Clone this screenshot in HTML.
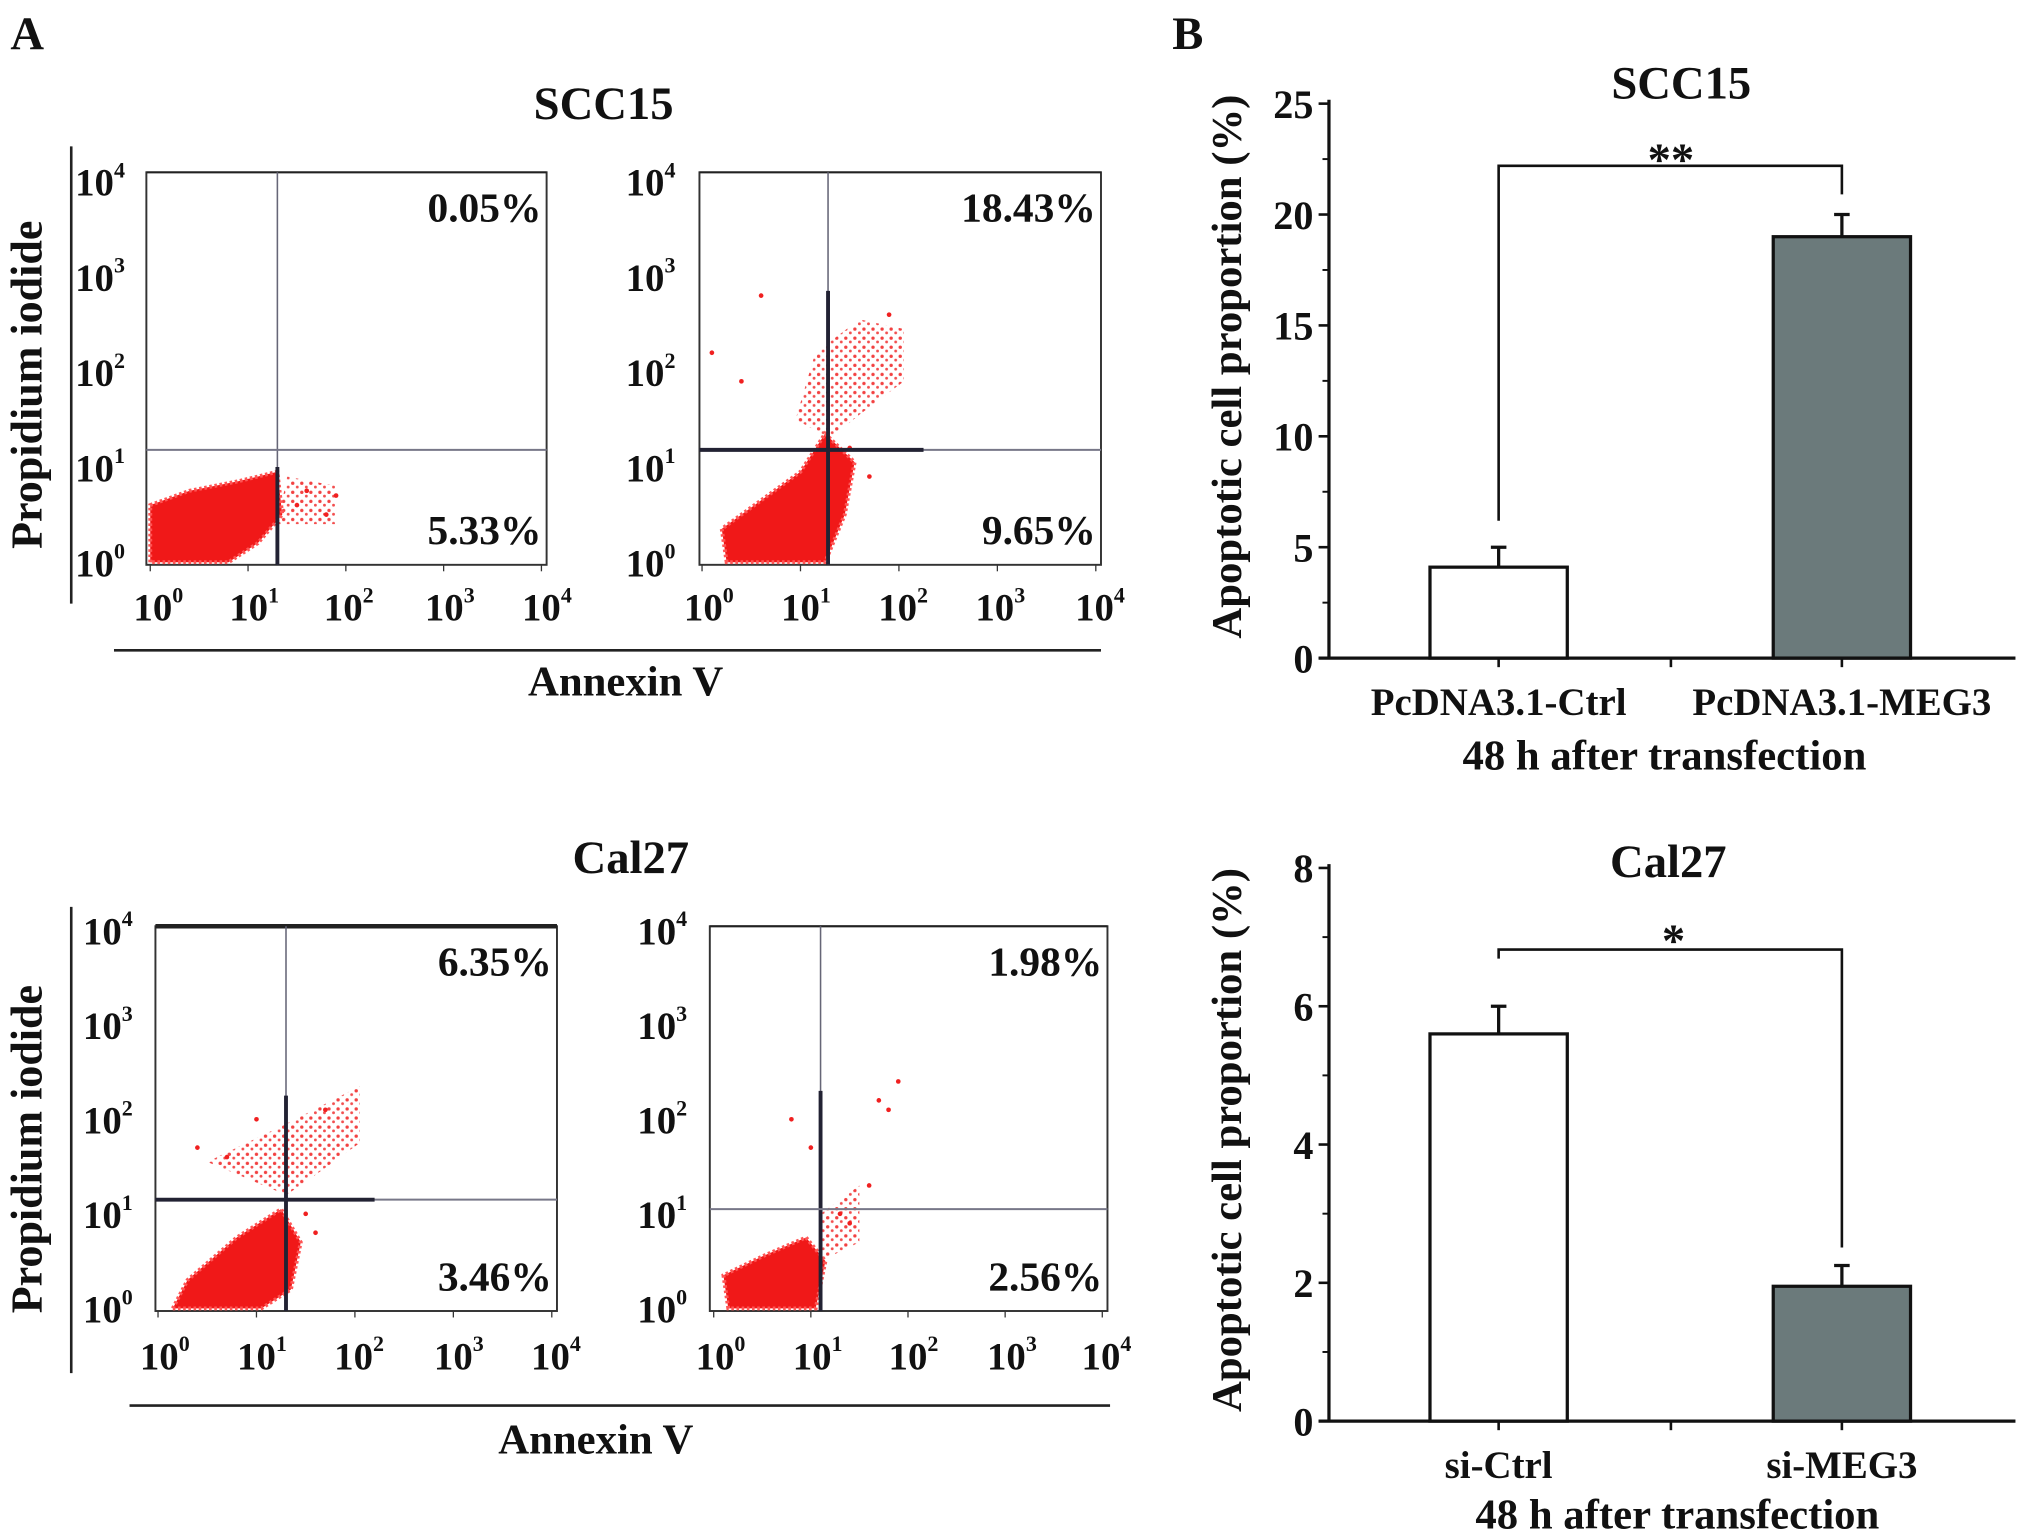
<!DOCTYPE html>
<html><head><meta charset="utf-8">
<style>
html,body{margin:0;padding:0;background:#fff;}
svg{display:block;}
text{font-family:"Liberation Serif",serif;font-weight:bold;fill:#111;}
</style></head>
<body>
<svg id="fig" width="2031" height="1539" viewBox="0 0 1568 1188" preserveAspectRatio="none" xmlns="http://www.w3.org/2000/svg">
<defs>
<pattern id="dots" width="7" height="7" patternUnits="userSpaceOnUse">
<circle cx="2" cy="2" r="1.3" fill="#f02020"/><circle cx="5.5" cy="5" r="1.1" fill="#f03030"/>
</pattern>
</defs>
<text x="8" y="38" font-size="36">A</text>
<text x="905" y="38" font-size="36">B</text>
<text x="466" y="92" font-size="36" text-anchor="middle">SCC15</text>
<text x="487" y="674" font-size="36" text-anchor="middle">Cal27</text>
<line x1="55" y1="113" x2="55" y2="466" stroke="#222" stroke-width="2"/>
<line x1="55" y1="700" x2="55" y2="1060" stroke="#222" stroke-width="2"/>
<text transform="translate(32,297) rotate(-90)" font-size="34" text-anchor="middle">Propidium iodide</text>
<text transform="translate(32,887) rotate(-90)" font-size="34" text-anchor="middle">Propidium iodide</text>
<line x1="88" y1="502" x2="850" y2="502" stroke="#222" stroke-width="2"/>
<line x1="100" y1="1085" x2="857" y2="1085" stroke="#222" stroke-width="2"/>
<text x="483" y="537" font-size="33" text-anchor="middle">Annexin V</text>
<text x="460" y="1122" font-size="33" text-anchor="middle">Annexin V</text>

<text x="1298" y="76" font-size="36" text-anchor="middle">SCC15</text>
<text x="1288" y="677" font-size="36" text-anchor="middle">Cal27</text>
<text transform="translate(958,283) rotate(-90)" font-size="33" text-anchor="middle">Apoptotic cell proportion (%)</text>
<text transform="translate(958,880) rotate(-90)" font-size="33" text-anchor="middle">Apoptotic cell proportion (%)</text>
<text x="1285" y="594" font-size="33" text-anchor="middle">48 h after transfection</text>
<text x="1295" y="1180" font-size="33" text-anchor="middle">48 h after transfection</text>
</svg>
<script>
// ---- flow cytometry data (log10 units) ----
const flowNames = ['scc15-ctrl','scc15-meg3','cal27-ctrl','cal27-simeg3'];
const quadUpper = ['0.05%','18.43%','6.35%','1.98%'];
const quadLower = ['5.33%','9.65%','3.46%','2.56%'];
const gateX = [1.3, 1.28, 1.3, 1.1];
const gateY = [1.18, 1.18, 1.15, 1.05];
const denseClouds = [
 [[0,0],[0,0.6],[0.4,0.75],[0.9,0.85],[1.3,0.95],[1.35,0.5],[1.1,0.2],[0.8,0]],
 [[0.25,0],[0.2,0.35],[0.6,0.65],[1.0,0.95],[1.25,1.35],[1.55,1.05],[1.45,0.5],[1.25,0]],
 [[0.15,0],[0.3,0.3],[0.8,0.75],[1.25,1.05],[1.45,0.7],[1.35,0.2],[1.05,0]],
 [[0.15,0],[0.1,0.35],[0.5,0.55],[0.95,0.75],[1.15,0.5],[1.05,0]]
];
const sparseClouds = [
 [[1.3,0.4],[1.4,0.9],[1.9,0.8],[1.9,0.4]],
 [[0.95,1.5],[1.15,2.2],[1.6,2.55],[2.05,2.45],[2.05,1.9],[1.6,1.55],[1.3,1.3]],
 [[0.5,1.55],[1.3,1.95],[2.05,2.35],[2.05,1.75],[1.45,1.3],[1.3,1.2]],
 [[1.1,0.5],[1.1,1.0],[1.5,1.3],[1.5,0.7]]
];
const strayPoints = [
 [[1.5,0.6],[1.8,0.5],[1.9,0.7],[1.6,0.75]],
 [[0.1,2.2],[0.6,2.8],[1.9,2.6],[0.4,1.9],[1.5,1.2],[1.7,0.9]],
 [[0.7,1.6],[1.0,2.0],[1.7,2.1],[1.5,1.0],[1.6,0.8],[0.4,1.7]],
 [[1.7,2.2],[1.8,2.1],[0.8,2.0],[1.0,1.7],[1.6,1.3],[1.3,1.0],[1.4,0.9],[1.9,2.4]]
];
const decadeLabels = ['0','1','2','3','4'];
// ---- bar chart data ----
const barCats1 = ['PcDNA3.1-Ctrl','PcDNA3.1-MEG3'];
const barVals1 = [4.1, 19.0];
const barErr1 = [0.9, 1.0];
const barTicks1 = [0,5,10,15,20,25];
const barCats2 = ['si-Ctrl','si-MEG3'];
const barVals2 = [5.6, 1.95];
const barErr2 = [0.4, 0.3];
const barTicks2 = [0,2,4,6,8];

const NS='http://www.w3.org/2000/svg';
const svg=document.getElementById('fig');
function mk(tag,attrs,parent){const e=document.createElementNS(NS,tag);for(const k in attrs)e.setAttribute(k,attrs[k]);(parent||svg).appendChild(e);return e;}

// flow plot geometry (pixels); thick gate segment extents in log units
const boxes=[
 {bx0:113,bx1:422,by0:133,by1:436,x0:116,x1:418,y0:434,y1:140,lx:[118,192,265,343,418],ly:467,ylx:88,vTop:1.0,hEnd:0,topW:1.5},
 {bx0:540,bx1:850,by0:133,by1:436,x0:542,x1:846,y0:434,y1:140,lx:[543,618,693,768,845],ly:467,ylx:513,vTop:2.85,hEnd:2.25,topW:1.5},
 {bx0:120,bx1:430,by0:715,by1:1012,x0:122,x1:426,y0:1010,y1:718,lx:[123,198,273,350,425],ly:1045,ylx:94,vTop:2.25,hEnd:2.2,topW:3.5},
 {bx0:548,bx1:855,by0:715,by1:1012,x0:551,x1:851,y0:1010,y1:718,lx:[552,627,701,777,850],ly:1045,ylx:522,vTop:2.3,hEnd:0,topW:1.5}
];
boxes.forEach((b,i)=>{
 const g=mk('g',{});
 
 
 const px=v=>b.x0+v*(b.x1-b.x0)/4, py=v=>b.y0-v*(b.y0-b.y1)/4;
 mk('rect',{x:b.bx0,y:b.by0,width:b.bx1-b.bx0,height:b.by1-b.by0,fill:'#fff',stroke:'#333','stroke-width':1.5},g);
 mk('line',{x1:b.bx0,y1:b.by0,x2:b.bx1,y2:b.by0,stroke:'#222','stroke-width':b.topW},g);
 const sp=mk('polygon',{points:sparseClouds[i].map(p=>px(p[0])+','+py(p[1])).join(' '),fill:'url(#dots)',opacity:0.85},g);
 
 
 const dc=mk('polygon',{points:denseClouds[i].map(p=>px(p[0])+','+py(p[1])).join(' '),fill:'#f01818','stroke':'#f55','stroke-width':3,'stroke-dasharray':'2 2'},g);
 
 
 strayPoints[i].forEach(p=>{const c=mk('circle',{cx:px(p[0]),cy:py(p[1]),r:1.8,fill:'#f02020'},g);
  
  });
 const gx=px(gateX[i]), gy=py(gateY[i]);
 mk('line',{x1:gx,y1:b.by0,x2:gx,y2:b.by1,stroke:'#667',"stroke-width":1.2},g);
 mk('line',{x1:gx,y1:py(b.vTop),x2:gx,y2:b.by1,stroke:'#223',"stroke-width":3},g);
 mk('line',{x1:b.bx0,y1:gy,x2:b.bx1,y2:gy,stroke:'#778',"stroke-width":1.5},g);
 if(b.hEnd>0) mk('line',{x1:b.bx0,y1:gy,x2:px(b.hEnd),y2:gy,stroke:'#223',"stroke-width":3},g);
 const t1=mk('text',{x:b.bx1-4,y:b.by0+38,'font-size':32,'text-anchor':'end'},g);t1.textContent=quadUpper[i];
 
 
 const t2=mk('text',{x:b.bx1-4,y:b.by1-16,'font-size':32,'text-anchor':'end'},g);t2.textContent=quadLower[i];
 
 
 decadeLabels.forEach((d,k)=>{
  const xt=mk('text',{x:b.lx[k]-15,y:b.ly+12,'font-size':30},g);
  
  
  xt.appendChild(document.createTextNode('10'));
  const s=mk('tspan',{dy:-14,'font-size':17},xt);s.textContent=d;
  const yt=mk('text',{x:b.ylx-30,y:py(k)+11,'font-size':30},g);
  
  
  yt.appendChild(document.createTextNode('10'));
  const s2=mk('tspan',{dy:-14,'font-size':17},yt);s2.textContent=d;
  mk('line',{x1:px(k),y1:b.by1,x2:px(k),y2:b.by1+5,stroke:'#333'},g);
 });
});

// bar charts
function barChart(cfg){
 const g=mk('g',{});
 
 
 const ax=1026, y0=cfg.y0, yTop=cfg.yTop, max=cfg.ticks[cfg.ticks.length-1];
 const sy=v=>y0-v*(y0-yTop)/max;
 const cx=[1157,1422];
 mk('line',{x1:ax,y1:yTop-3,x2:ax,y2:y0,stroke:'#111','stroke-width':2.5},g);
 mk('line',{x1:1018,y1:y0,x2:1556,y2:y0,stroke:'#111','stroke-width':2.5},g);
 cfg.ticks.forEach((t,k)=>{
  mk('line',{x1:ax-8,y1:sy(t),x2:ax,y2:sy(t),stroke:'#111','stroke-width':2},g);
  if(k<cfg.ticks.length-1){const m=(t+cfg.ticks[k+1])/2;mk('line',{x1:ax-5,y1:sy(m),x2:ax,y2:sy(m),stroke:'#111','stroke-width':1.5},g);}
  const tl=mk('text',{x:ax-12,y:sy(t)+11,'font-size':31,'text-anchor':'end'},g);tl.textContent=t;
  
  
 });
 [1157,1290,1422].forEach(x=>mk('line',{x1:x,y1:y0,x2:x,y2:y0+7,stroke:'#111','stroke-width':2},g));
 cfg.vals.forEach((v,i)=>{
  const r=mk('rect',{x:cx[i]-53,y:sy(v),width:106,height:y0-sy(v),fill:i?'#6b7a7b':'#fff',stroke:'#111','stroke-width':2.5},g);
  
  
  const e=mk('path',{d:`M${cx[i]},${sy(v)} V${sy(v+cfg.err[i])} M${cx[i]-6},${sy(v+cfg.err[i])} H${cx[i]+6}`,stroke:'#111','stroke-width':2.5,fill:'none'},g);
  
  
  const l=mk('text',{x:cx[i],y:y0+44,'font-size':30,'text-anchor':'middle'},g);l.textContent=cfg.cats[i];
  
  
 });
 const br=mk('path',{d:cfg.bracket,stroke:'#111','stroke-width':2,fill:'none'},g);
 
 
 const st=mk('text',{x:cfg.starX,y:cfg.starY,'font-size':36,'text-anchor':'middle'},g);st.textContent=cfg.star;
 
 
}
barChart({name:'bar-chart-scc15',y0:508,yTop:80,ticks:barTicks1,vals:barVals1,err:barErr1,cats:barCats1,
 bracket:'M1157,402 V128 H1422 V150',star:'**',starX:1290,starY:135});
barChart({name:'bar-chart-cal27',y0:1097,yTop:670,ticks:barTicks2,vals:barVals2,err:barErr2,cats:barCats2,
 bracket:'M1157,740 V733 H1422 V963',star:'*',starX:1292,starY:738});
</script>
</body></html>
